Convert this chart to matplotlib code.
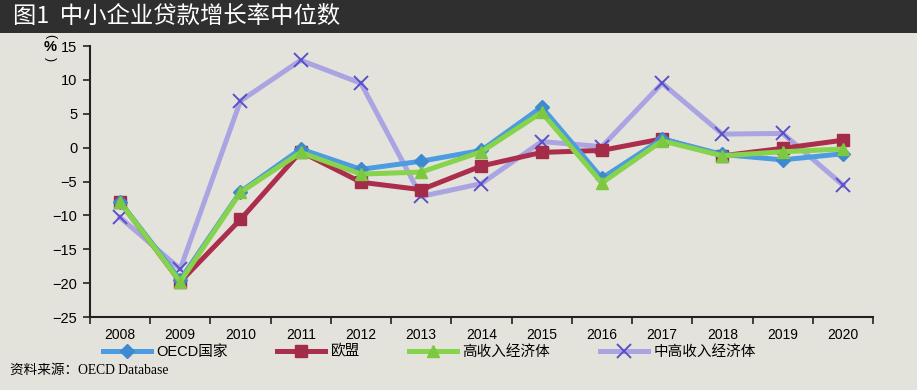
import numpy as np
import matplotlib.pyplot as plt
from matplotlib.patches import Rectangle

plt.rcParams['font.family'] = ['Liberation Sans', 'Noto Sans CJK SC', 'DejaVu Sans']
plt.rcParams['axes.unicode_minus'] = True

years = ['2008', '2009', '2010', '2011', '2012', '2013', '2014',
         '2015', '2016', '2017', '2018', '2019', '2020']

oecd = [-8.0, -19.5, -6.5, -0.2, -3.2, -2.0, -0.4, 6.0, -4.5, 1.3, -1.0, -1.8, -0.9]
eu = [-8.0, -19.8, -10.6, -0.6, -5.1, -6.2, -2.7, -0.7, -0.4, 1.3, -1.2, -0.1, 1.1]
high_income = [-8.0, -19.8, -6.6, -0.7, -3.9, -3.6, -0.6, 5.2, -5.2, 1.0, -1.2, -0.6, -0.2]
upper_middle = [-10.3, -17.9, 6.9, 12.9, 9.5, -7.2, -5.3, 0.9, 0.15, 9.5, 2.0, 2.1, -5.5]

bg = '#e4e3db'

fig = plt.figure(figsize=(9.17, 3.9), dpi=100, facecolor=bg)

# title bar
fig.patches.append(Rectangle((0, 0.915), 1, 0.085, transform=fig.transFigure,
                             facecolor='#2f2f2f', edgecolor='none', zorder=0))
fig.text(0.014, 0.957, '图1  中小企业贷款增长率中位数', color='white', fontsize=16.8,
         family=['Noto Sans CJK SC'], va='center', ha='left')

ax = fig.add_axes([0.098, 0.187, 0.854, 0.695], facecolor=bg)
x = np.arange(len(years))

ax.plot(x, upper_middle, color='#aaa5e2', lw=3.6, marker='x', markersize=10,
        markeredgewidth=1.4, markeredgecolor='#5b50c8', label='中高收入经济体', zorder=2)
ax.plot(x, eu, color='#ab2e4c', lw=3.6, marker='s', markersize=9,
        markerfacecolor='#a32c48', markeredgecolor='#a32c48', label='欧盟', zorder=3)
ax.plot(x, oecd, color='#4d9be0', lw=3.6, marker='D', markersize=7,
        markerfacecolor='#3d8ad0', markeredgecolor='#3d8ad0', label='OECD国家', zorder=4)
ax.plot(x, high_income, color='#86d34c', lw=3.6, marker='^', markersize=9,
        markerfacecolor='#7cc840', markeredgecolor='#7cc840', label='高收入经济体', zorder=5)

ax.set_xlim(-0.5, len(years) - 0.5)
ax.set_ylim(-25, 15)
ax.set_yticks(np.arange(-25, 16, 5))
ax.set_yticklabels([str(v).replace('-', '\u2212') for v in range(-25, 16, 5)], fontsize=10.5)
ax.set_xticks(np.arange(-0.5, len(years), 1))
ax.set_xticklabels([])
ax.set_xticks(x, minor=True)
ax.set_xticklabels(years, minor=True, fontsize=10)
ax.tick_params(axis='x', which='major', direction='out', length=5, width=1.2, color='#222222')
ax.tick_params(axis='x', which='minor', length=0, pad=8)
ax.tick_params(axis='y', direction='out', length=5, width=1.2, color='#222222', pad=4)

for s in ['top', 'right']:
    ax.spines[s].set_visible(False)
for s in ['left', 'bottom']:
    ax.spines[s].set_linewidth(1.5)
    ax.spines[s].set_color('#222222')

# vertical unit label: (%) written top to bottom
ux = 50 / 917
fig.text(ux, 1 - 36 / 390, '(', rotation=-90, fontsize=9, ha='center', va='center')
fig.text(ux, 1 - 47 / 390, '%', fontsize=10.5, fontweight='bold', ha='center', va='center')
fig.text(ux, 1 - 59 / 390, ')', rotation=-90, fontsize=9, ha='center', va='center')

handles, labels = ax.get_legend_handles_labels()
order = [2, 1, 3, 0]
leg = fig.legend([handles[i] for i in order], [labels[i] for i in order],
                 loc='center left', bbox_to_anchor=(0.098, 0.098), ncol=4, frameon=False,
                 handlelength=3.3, handletextpad=0.35, columnspacing=3.4,
                 prop={'family': ['Liberation Sans', 'Noto Sans CJK SC'], 'size': 10.5})

fig.text(0.011, 0.05, '资料来源：OECD Database', fontsize=9.8,
         family=['Liberation Serif', 'Noto Sans CJK SC'], va='center', ha='left')

fig.savefig('out.png', dpi=100, facecolor=bg)
